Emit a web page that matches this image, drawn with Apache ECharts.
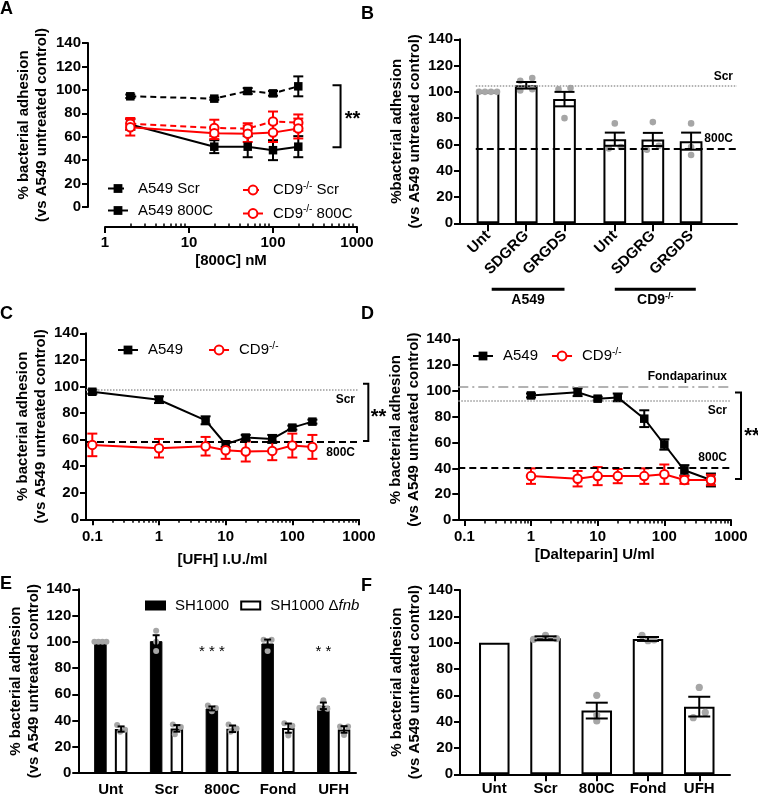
<!DOCTYPE html>
<html><head><meta charset="utf-8">
<script src="https://cdn.jsdelivr.net/npm/echarts@6/dist/echarts.min.js"></script>
<style>html,body{margin:0;padding:0;background:#fff}#c{width:758px;height:797px}</style>
</head><body><div id="c"></div>
<script>
// ================= DATA =================
// Panel A
const aDoses = [2, 20, 50, 100, 200];
const aA549Scr = [94.5, 92.5, 99, 97, 103];
const aA549ScrErr = [1.5, 1, 2.5, 2, 8.5];
const aA549800C = [70.5, 51.5, 51.5, 48.5, 51.5];
const aA549800CErr = [4.5, 5.5, 9, 8.5, 9];
const aCD9Scr = [71, 67.5, 67, 73, 72];
const aCD9ScrErr = [5, 7, 4.5, 8.5, 7];
const aCD9800C = [68, 63, 62.5, 63.5, 67];
const aCD9800CErr = [7, 5, 7, 8, 8.5];
const aXTicks = [1, 10, 100, 1000];
const aXTickLabels = ['1', '10', '100', '1000'];

// Panel B
const bCategories = ['Unt', 'SDGRG', 'GRGDS', 'Unt', 'SDGRG', 'GRGDS'];
const bGroups = ['A549', 'CD9-/-'];
const bMeans = [100, 105, 94.5, 64, 63.8, 62.5];
const bSem = [0, 2.5, 5.5, 5, 5, 6.5];
const bPoints = [[100, 100, 100, 100], [101, 102, 108.5, 110.5], [102, 103, 80], [76, 57, 58], [77, 56, 59], [76, 58, 52]];
const bScrLevel = 104.3;
const b800CLevel = 56.5;

// Panel C
const cDoses = [0.1, 1, 5, 10, 20, 50, 100, 200];
const cA549 = [96, 90, 74.5, 56.5, 61.5, 60.5, 69, 73.5];
const cA549Err = [1.5, 2.5, 3, 2, 2, 3, 1.5, 1.5];
const cCD9 = [56, 53.5, 55, 52, 51, 51.5, 55.5, 54.5];
const cCD9Err = [8.5, 7, 7, 6.5, 7.5, 7, 9, 9];
const cScrLevel = 97.8;
const c800CLevel = 58;

// Panel D
const dDoses = [1, 5, 10, 20, 50, 100, 200, 500];
const dA549 = [96.5, 99, 94, 95, 78.5, 58.5, 38.5, 31];
const dA549Err = [1.5, 3, 1.5, 3, 6.5, 4, 4, 5];
const dCD9 = [34, 32, 34, 34, 34, 35.5, 31, 31];
const dCD9Err = [6, 6, 7, 5.5, 6, 7.5, 3, 4];
const dFondLevel = 102.9;
const dScrLevel = 92.6;
const d800CLevel = 40.6;
const cdXTicks = [0.1, 1, 10, 100, 1000];
const cdXTickLabels = ['0.1', '1', '10', '100', '1000'];

// Panel E
const eCategories = ['Unt', 'Scr', '800C', 'Fond', 'UFH'];
const eWT = [100, 100.5, 49.2, 98.7, 51.2];
const eWTSem = [0, 4.5, 1.5, 3, 2.5];
const eWTPoints = [[100, 100, 100, 100], [108.5, 100, 93], [51.5, 49.5, 47], [101.5, 101.5, 93], [55.5, 49.5, 49]];
const eFnb = [33.5, 34, 33.7, 34.2, 33.2];
const eFnbSem = [2, 2.5, 2.5, 3.5, 2.5];
const eFnbPoints = [[36.5, 33, 31.5], [37, 35, 29.5], [37, 34, 31.5], [38, 36, 28.5], [35.5, 35.5, 29]];

// Panel F
const fCategories = ['Unt', 'Scr', '800C', 'Fond', 'UFH'];
const fMeans = [100, 103.3, 48.4, 102.8, 51.4];
const fSem = [0, 1.5, 6, 1.5, 7.5];
const fPoints = [[], [102.5, 105.5, 103], [60, 45, 40.5], [105.5, 101.5, 102], [66, 43, 47]];

const yTitle = '% bacterial adhesion\n(vs A549 untreated control)';
const yTitleB = '%bacterial adhesion\n(vs A549 untreated control)';

// ================= LAYOUT / STYLE =================
const FONT = '"Liberation Sans", Arial, Helvetica, sans-serif';
const BLACK = '#000', RED = '#ff0000', DOT = '#a6a6a6', REFGREY = '#9a9a9a';
const bPositions = [1, 2, 3, 4.315, 5.31, 6.31];
const ePositions = [1, 2, 3, 4, 5];
const fPositions = [1, 2, 3, 4, 5];
const bJitter = [[-9, -3, 3, 9], [-6, 6, -6, 6], [-6, 6, 0], [0, -6, 6], [0, -6, 6], [0, 0, 0]];
const eWTJitter = [[-6, -2, 2, 6], [0, 0, 0], [-4, 4, 0], [-4, 4, 0], [0, -4, 4]];
const eFnbJitter = [[-4, 4, -1], [-4, 4, -2], [-4, 4, -2], [-4, 4, 0], [-4, 4, 0]];
const fJitter = [[], [-12, 0, 11], [0, 0, 0], [-6, 0, 6], [0, -6, 6]];
const E_OFF = 10.35; // half distance between paired bar centres in E

function minorLogTicks(lo, hi) {
  const out = [];
  for (let e = lo; e < hi; e++) for (let m = 2; m <= 9; m++) out.push(+(m * Math.pow(10, e)).toPrecision(6));
  return out;
}
const tickLabelStyle = { color: BLACK, fontSize: 15, fontWeight: 'bold', fontFamily: FONT };
const nameStyle = { color: BLACK, fontSize: 15, fontWeight: 'bold', fontFamily: FONT, lineHeight: 18 };

function yAxisDef(gi, name, nameGap, offset) {
  return {
    type: 'value', gridIndex: gi, min: 0, max: 140, interval: 20, offset: offset || 0,
    axisLine: { show: true, onZero: false, lineStyle: { color: BLACK, width: 2 } },
    axisTick: { show: true, length: 6, lineStyle: { color: BLACK, width: 2 } },
    axisLabel: Object.assign({ margin: 7 }, tickLabelStyle),
    splitLine: { show: false },
    name: name, nameLocation: 'middle', nameGap: nameGap, nameTextStyle: nameStyle
  };
}
function logLabel(ticks, labels) {
  return v => {
    for (let i = 0; i < ticks.length; i++) if (Math.abs(Math.log10(v) - Math.log10(ticks[i])) < 1e-6) return labels[i];
    return '';
  };
}
function xLogMajor(gi, min, ticks, labels, name, nameGap, margin, offset) {
  return {
    type: 'log', logBase: 10, gridIndex: gi, position: 'bottom', min: min, max: 1000, offset: offset || 0,
    axisLine: { show: true, onZero: false, lineStyle: { color: BLACK, width: 2 } },
    axisTick: { show: true, length: 6, customValues: ticks, lineStyle: { color: BLACK, width: 2 } },
    axisLabel: Object.assign({ customValues: ticks, formatter: logLabel(ticks, labels), margin: margin, hideOverlap: false }, tickLabelStyle),
    splitLine: { show: false }, minorTick: { show: false },
    name: name, nameLocation: 'middle', nameGap: nameGap, nameTextStyle: nameStyle
  };
}
function xLogMinor(gi, min, lo, inside, offset) {
  return {
    type: 'log', logBase: 10, gridIndex: gi, position: 'bottom', min: min, max: 1000, offset: offset || 0,
    axisLine: { show: false, onZero: false }, axisLabel: { show: false }, splitLine: { show: false },
    axisTick: { show: true, inside: inside, length: 3.5, customValues: minorLogTicks(lo, 3), lineStyle: { color: BLACK, width: 1.5 } }
  };
}
function catLabel(positions, cats) {
  return v => { const i = positions.findIndex(p => Math.abs(p - v) < 1e-6); return i >= 0 ? cats[i] : ''; };
}
function xCatValue(gi, min, max, positions, cats, opts) {
  opts = opts || {};
  return {
    type: 'value', gridIndex: gi, position: 'bottom', min: min, max: max,
    axisLine: { show: true, onZero: false, lineStyle: { color: BLACK, width: 2 } },
    axisTick: { show: opts.ticks !== false, length: opts.tickLen || 7, customValues: positions, lineStyle: { color: BLACK, width: 2 } },
    axisLabel: Object.assign({ customValues: positions, formatter: catLabel(positions, cats), margin: opts.margin || 8, rotate: opts.rotate || 0, hideOverlap: false }, tickLabelStyle),
    splitLine: { show: false }
  };
}
function lineSeries(name, xi, yi, xs, ys, color, dashed, square) {
  return {
    type: 'line', name: name, xAxisIndex: xi, yAxisIndex: yi, z: 5,
    data: xs.map((x, i) => [x, ys[i]]),
    symbol: square ? 'rect' : 'circle', symbolSize: 8.5, showSymbol: true,
    lineStyle: { color: color, width: 2, type: dashed ? [6, 4] : 'solid' },
    itemStyle: square ? { color: color } : { color: '#fff', borderColor: color, borderWidth: 2 }
  };
}
function errSeries(xi, yi, xs, ys, es, color, capHalf, offsetPx, z) {
  return {
    type: 'custom', xAxisIndex: xi, yAxisIndex: yi, z: z || 4, silent: true,
    data: xs.map((x, i) => [x, ys[i], es[i]]),
    renderItem: (params, api) => {
      const x = api.value(0), y = api.value(1), e = api.value(2);
      if (!e) return null;
      const t = api.coord([x, y + e]), b = api.coord([x, y - e]);
      const cx = t[0] + (offsetPx || 0);
      const st = { stroke: color, lineWidth: 2 };
      return { type: 'group', children: [
        { type: 'line', shape: { x1: cx, y1: t[1], x2: cx, y2: b[1] }, style: st },
        { type: 'line', shape: { x1: cx - capHalf, y1: t[1], x2: cx + capHalf, y2: t[1] }, style: st },
        { type: 'line', shape: { x1: cx - capHalf, y1: b[1], x2: cx + capHalf, y2: b[1] }, style: st }
      ] };
    }
  };
}
function dotSeries(xi, yi, positions, pts, jit, offsetPx, r) {
  const data = [];
  positions.forEach((p, i) => pts[i].forEach((v, k) => data.push([p, v, jit[i][k]])));
  return {
    type: 'custom', xAxisIndex: xi, yAxisIndex: yi, z: 3, silent: true, data: data,
    renderItem: (params, api) => {
      const c = api.coord([api.value(0), api.value(1)]);
      return { type: 'circle', shape: { cx: c[0] + offsetPx + api.value(2), cy: c[1], r: r }, style: { fill: DOT } };
    }
  };
}
const refLabel = (text, pos) => ({ show: true, formatter: text, position: pos, color: BLACK, fontSize: 12, fontWeight: 'bold', fontFamily: FONT, distance: 4 });
const DOTTED = { type: 'dotted', color: REFGREY, width: 1.5 };
const DASHED = { type: [7, 4], color: BLACK, width: 2 };
const DASHDOT = { type: [10, 4, 2, 4], color: REFGREY, width: 1.5 };

const legendText = { color: BLACK, fontSize: 15, fontFamily: FONT, padding: [0, 0, 0, 5],
  rich: { s: { fontSize: 10, fontFamily: FONT, padding: [0, 0, 8, 0], color: BLACK },
          i: { fontSize: 15, fontFamily: FONT, fontStyle: 'italic', color: BLACK },
          n: { fontSize: 15, fontFamily: FONT, color: BLACK } } };
const legendFmt = n => n.indexOf('CD9-/-') === 0 ? '{n|CD9}{s|-/-}' + n.slice(6) : (n === 'SH1000 Δfnb' ? 'SH1000 Δ{i|fnb}' : n);

// ================= OPTION =================
const option = {
  animation: false,
  textStyle: { fontFamily: FONT },
  grid: [
    { left: 105, top: 43, width: 252, height: 164 },
    { left: 460, top: 39.3, width: 277, height: 184 },
    { left: 86, top: 333.3, width: 273, height: 186 },
    { left: 458.3, top: 339.3, width: 272.7, height: 180.7 },
    { left: 78.3, top: 589.3, width: 277.7, height: 184.7 },
    { left: 460, top: 590, width: 270, height: 184.3 }
  ],
  xAxis: [
    xLogMajor(0, 1, aXTicks, aXTickLabels, '[800C] nM', 23, 8.5, 20),
    xLogMinor(0, 1, 0, true, 20),
    xCatValue(1, 0.268, 7.51, bPositions, bCategories, { rotate: 45, tickLen: 8, margin: 10 }),
    xLogMajor(2, 0.0804, cdXTicks, cdXTickLabels, '[UFH] I.U./ml', 32, 10.4, 0),
    xLogMinor(2, 0.0804, -1, false, 0),
    xLogMajor(3, 0.0812, cdXTicks, cdXTickLabels, '[Dalteparin] U/ml', 24.5, 9.7, 0),
    xLogMinor(3, 0.0812, -1, false, 0),
    xCatValue(4, 0.4176, 5.4, ePositions, eCategories, { ticks: false, margin: 9 }),
    xCatValue(5, 0.331, 5.6, fPositions, fCategories, { tickLen: 7, margin: 7 })
  ],
  yAxis: [
    yAxisDef(0, yTitle, 37.5, 17),
    yAxisDef(1, yTitleB, 35),
    yAxisDef(2, yTitle, 36),
    yAxisDef(3, yTitle, 35),
    yAxisDef(4, yTitle, 28),
    yAxisDef(5, yTitle, 35)
  ],
  legend: [
    { data: ['A549 Scr', 'A549 800C'], orient: 'vertical', left: 102, top: 176, itemGap: 7, itemWidth: 20, itemHeight: 11, selectedMode: false, textStyle: legendText, formatter: legendFmt },
    { data: ['CD9-/- Scr', 'CD9-/- 800C'], orient: 'vertical', left: 237, top: 176, itemGap: 7, itemWidth: 20, itemHeight: 11, selectedMode: false, textStyle: legendText, formatter: legendFmt },
    { data: ['A549', 'CD9-/-'], orient: 'horizontal', left: 112, top: 336, itemGap: 25, itemWidth: 20, itemHeight: 11, selectedMode: false, textStyle: legendText, formatter: legendFmt },
    { data: ['A549 ', 'CD9-/- '], orient: 'horizontal', left: 467, top: 342, itemGap: 13, itemWidth: 20, itemHeight: 11, selectedMode: false, textStyle: legendText, formatter: n => legendFmt(n.trim()) },
    { data: ['SH1000', 'SH1000 Δfnb'], orient: 'horizontal', left: 140, top: 593, itemGap: 11, itemWidth: 19, itemHeight: 8, icon: 'rect', selectedMode: false, textStyle: legendText, formatter: legendFmt }
  ],
  series: [
    // ---- A ----
    errSeries(0, 0, aDoses, aA549Scr, aA549ScrErr, BLACK, 5),
    errSeries(0, 0, aDoses, aA549800C, aA549800CErr, BLACK, 5),
    errSeries(0, 0, aDoses, aCD9Scr, aCD9ScrErr, RED, 5),
    errSeries(0, 0, aDoses, aCD9800C, aCD9800CErr, RED, 5),
    lineSeries('A549 Scr', 0, 0, aDoses, aA549Scr, BLACK, true, true),
    lineSeries('A549 800C', 0, 0, aDoses, aA549800C, BLACK, false, true),
    lineSeries('CD9-/- Scr', 0, 0, aDoses, aCD9Scr, RED, true, false),
    lineSeries('CD9-/- 800C', 0, 0, aDoses, aCD9800C, RED, false, false),
    // ---- B ----
    {
      type: 'bar', name: 'B', xAxisIndex: 2, yAxisIndex: 1, barWidth: 22.7, z: 2,
      data: bPositions.map((p, i) => [p, bMeans[i]]),
      itemStyle: { color: '#fff', borderColor: BLACK, borderWidth: 2 },
      markLine: {
        silent: true, symbol: ['none', 'none'], animation: false,
        data: [
          [{ coord: [0.68, bScrLevel], lineStyle: DOTTED, label: refLabel('Scr', 'insideEndTop') }, { coord: [7.51, bScrLevel] }],
          [{ coord: [0.68, b800CLevel], lineStyle: DASHED, label: refLabel('800C', 'insideEndTop') }, { coord: [7.51, b800CLevel] }]
        ]
      }
    },
    dotSeries(2, 1, bPositions, bPoints, bJitter, 0, 3.3),
    errSeries(2, 1, bPositions, bMeans, bSem, BLACK, 10),
    // ---- C ----
    errSeries(3, 2, cDoses, cA549, cA549Err, BLACK, 5),
    errSeries(3, 2, cDoses, cCD9, cCD9Err, RED, 5),
    Object.assign(lineSeries('A549', 3, 2, cDoses, cA549, BLACK, false, true), {
      markLine: { silent: true, symbol: ['none', 'none'], animation: false, data: [
        { yAxis: cScrLevel, lineStyle: DOTTED, label: refLabel('Scr', 'insideEndBottom') },
        { yAxis: c800CLevel, lineStyle: DASHED, label: refLabel('800C', 'insideEndBottom') }
      ] }
    }),
    lineSeries('CD9-/-', 3, 2, cDoses, cCD9, RED, false, false),
    // ---- D ----
    errSeries(5, 3, dDoses, dA549, dA549Err, BLACK, 5),
    errSeries(5, 3, dDoses, dCD9, dCD9Err, RED, 5),
    Object.assign(lineSeries('A549 ', 5, 3, dDoses, dA549, BLACK, false, true), {
      markLine: { silent: true, symbol: ['none', 'none'], animation: false, data: [
        { yAxis: dFondLevel, lineStyle: DASHDOT, label: refLabel('Fondaparinux', 'insideEndTop') },
        { yAxis: dScrLevel, lineStyle: DOTTED, label: refLabel('Scr', 'insideEndBottom') },
        { yAxis: d800CLevel, lineStyle: DASHED, label: refLabel('800C', 'insideEndTop') }
      ] }
    }),
    lineSeries('CD9-/- ', 5, 3, dDoses, dCD9, RED, false, false),
    // ---- E ----
    {
      type: 'bar', name: 'SH1000', xAxisIndex: 7, yAxisIndex: 4, barWidth: 12.5, barGap: '65.6%', z: 2,
      data: ePositions.map((p, i) => [p, eWT[i]]),
      itemStyle: { color: BLACK, borderColor: BLACK, borderWidth: 1 }
    },
    {
      type: 'bar', name: 'SH1000 Δfnb', xAxisIndex: 7, yAxisIndex: 4, barWidth: 12.5, barGap: '65.6%', z: 2,
      data: ePositions.map((p, i) => [p, eFnb[i]]),
      itemStyle: { color: '#fff', borderColor: BLACK, borderWidth: 2 }
    },
    dotSeries(7, 4, ePositions, eWTPoints, eWTJitter, -E_OFF, 3),
    dotSeries(7, 4, ePositions, eFnbPoints, eFnbJitter, E_OFF, 3),
    errSeries(7, 4, ePositions, eWT, eWTSem, BLACK, 3.5, -E_OFF),
    errSeries(7, 4, ePositions, eFnb, eFnbSem, BLACK, 3.5, E_OFF),
    // ---- F ----
    {
      type: 'bar', name: 'F', xAxisIndex: 8, yAxisIndex: 5, barWidth: 30.5, z: 2,
      data: fPositions.map((p, i) => [p, fMeans[i]]),
      itemStyle: { color: '#fff', borderColor: BLACK, borderWidth: 2 }
    },
    dotSeries(8, 5, fPositions, fPoints, fJitter, 0, 3.6),
    errSeries(8, 5, fPositions, fMeans, fSem, BLACK, 11)
  ]
};

const chart = echarts.init(document.getElementById('c'), null, { renderer: 'canvas', width: 758, height: 797 });
chart.setOption(option);

// ================= ANNOTATIONS =================
const conv = (gi, pt) => chart.convertToPixel({ gridIndex: gi }, pt);
const g = [];
function letter(t, x, y) {
  g.push({ type: 'text', x: x, y: y, style: { text: t, fontSize: 18, fontWeight: 'bold', fontFamily: FONT, fill: BLACK, textAlign: 'left', textVerticalAlign: 'top' } });
}
letter('A', 0, 0); letter('B', 361, 5); letter('C', 0, 305); letter('D', 361, 305); letter('E', 0, 575); letter('F', 361, 577);

function bracket(gi, xV, xT, yTop, yBot, stars, sx, sy) {
  const p1 = conv(gi, [xV, yTop]), p2 = conv(gi, [xV, yBot]), pt = conv(gi, [xT, yTop]);
  g.push({ type: 'polyline', shape: { points: [[pt[0], p1[1]], [p1[0], p1[1]], [p1[0], p2[1]], [pt[0], p2[1]]] }, style: { stroke: BLACK, lineWidth: 2, fill: null } });
  const s = conv(gi, [sx, sy]);
  g.push({ type: 'text', x: s[0], y: s[1], style: { text: stars, fontSize: 20, fontWeight: 'bold', fontFamily: FONT, fill: BLACK, textAlign: 'center', textVerticalAlign: 'middle' } });
}
bracket(0, 637, 511, 104, 51, '**', 886, 74.4);
bracket(2, 1380, 1148, 102, 59, '**', 1963, 76.6);
bracket(3, 1413, 1148, 98.7, 31.8, '**', 2065, 64.7);

function starText(gi, pos, y, off, t) {
  const p = conv(gi, [pos, y]);
  g.push({ type: 'text', x: p[0] + off, y: p[1], style: { text: t, fontSize: 15, fontFamily: FONT, fill: BLACK, textAlign: 'center', textVerticalAlign: 'middle' } });
}
starText(4, ePositions[2], 92, -E_OFF, '* * *');
starText(4, ePositions[4], 92, -E_OFF, '* *');

// Panel B group underlines
function groupLine(i0, i1, label, dx0, dx1) {
  const a = conv(1, [bPositions[i0], 0]), b = conv(1, [bPositions[i1], 0]);
  const x0 = a[0] + dx0, x1 = b[0] + dx1, y = 289.3;
  g.push({ type: 'line', shape: { x1: x0, y1: y, x2: x1, y2: y }, style: { stroke: BLACK, lineWidth: 3 } });
  const rich = { n: { fontSize: 14, fontWeight: 'bold', fontFamily: FONT, fill: BLACK }, s: { fontSize: 9, fontWeight: 'bold', fontFamily: FONT, fill: BLACK, padding: [0, 0, 7, 0] } };
  const txt = label.indexOf('CD9') === 0 ? '{n|CD9}{s|-/-}' : '{n|' + label + '}';
  g.push({ type: 'text', x: (x0 + x1) / 2, y: 300, style: { text: txt, rich: rich, fontSize: 14, fontWeight: 'bold', fontFamily: FONT, fill: BLACK, textAlign: 'center', textVerticalAlign: 'middle' } });
}
groupLine(0, 2, bGroups[0], 3.7, 0);
groupLine(3, 5, bGroups[1], 0, 4.7);

chart.setOption({ graphic: g });
</script></body></html>
